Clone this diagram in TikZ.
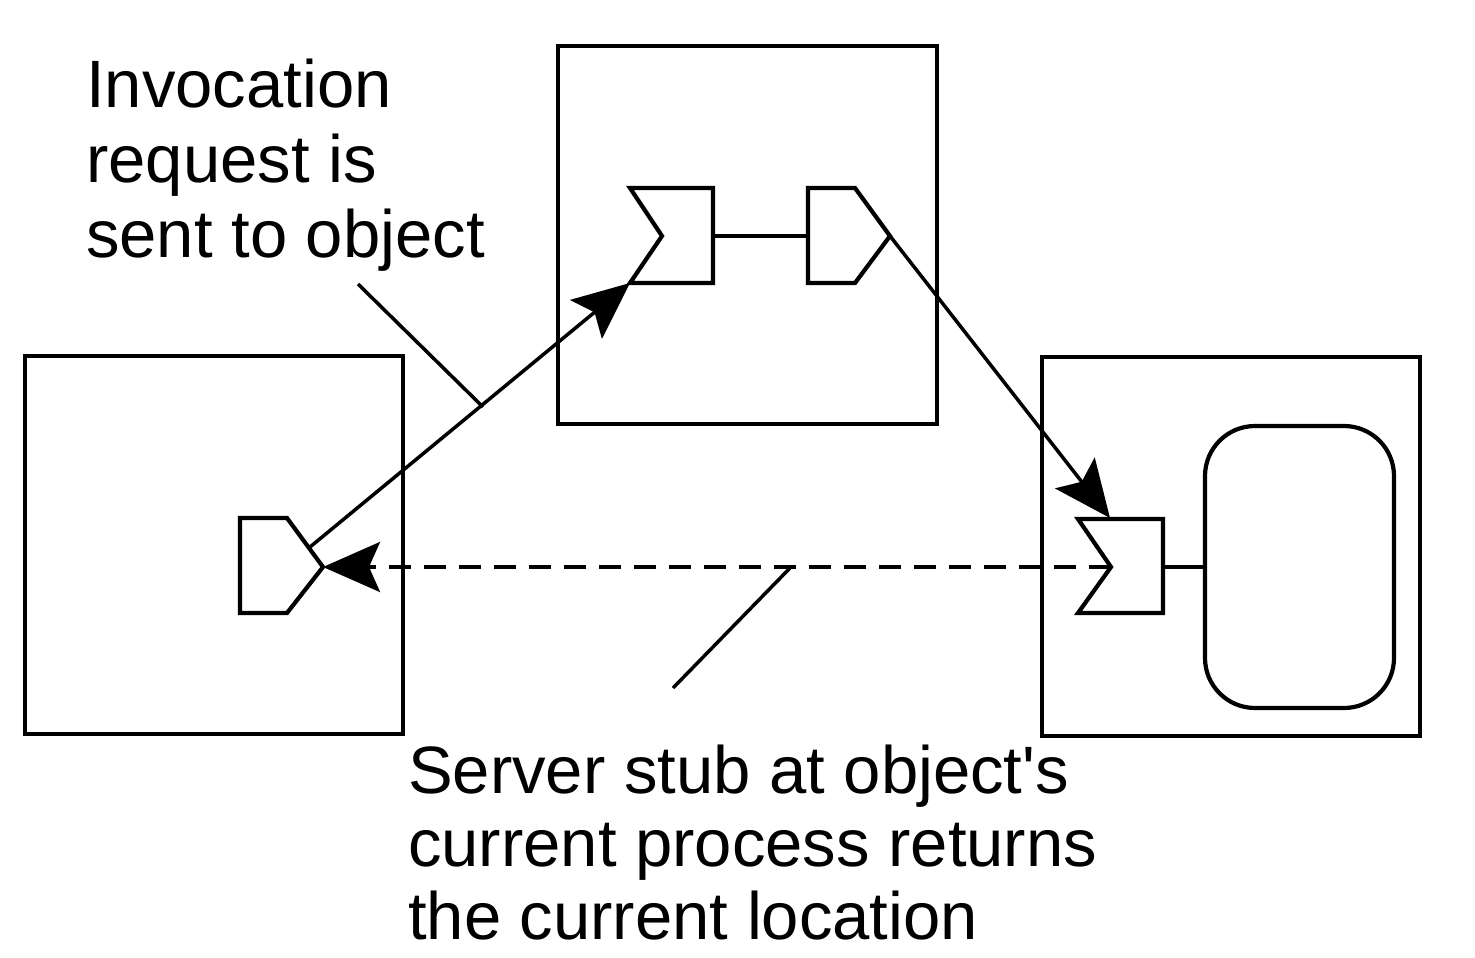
\documentclass[tikz,border=0pt]{standalone}
\usepackage{fontspec}
\setmainfont{Liberation Sans}
\usetikzlibrary{arrows.meta}
\begin{document}
\begin{tikzpicture}[x=1pt,y=-1pt,
  box/.style={draw, line width=4.2pt, line join=miter},
  conn/.style={line width=3.5pt},
  head/.style={-{Stealth[length=57pt,width=50pt,inset=11pt]}},
  lbl/.style={font=\fontsize{67}{75}\selectfont, align=left, inner sep=0pt, anchor=north west}]
\useasboundingbox (0,0) rectangle (1475,958);
% processes
\draw[box] (25,356) rectangle (403,734);
\draw[box] (558,46) rectangle (937,424);
\draw[box] (1042,357) rectangle (1420,736);
\draw[box, rounded corners=50pt] (1205,426) rectangle (1394,708);
% left proxy
\draw[box] (240,518) -- (287,518) -- (323,567) -- (287,613) -- (240,613) -- cycle;
\coordinate (lptip) at (323,567);
\coordinate (lpedge) at (310,547);
% middle skeleton and proxy
\draw[box] (630,188) -- (713,188) -- (713,283) -- (630,283) -- (662,236) -- cycle;
\coordinate (msk) at (630,283);
\coordinate (mskR) at (713,236);
\draw[box] (808,188) -- (855,188) -- (890,236) -- (855,283) -- (808,283) -- cycle;
\coordinate (mpL) at (808,236);
\coordinate (mptip) at (890,236);
% right skeleton
\draw[box] (1078,519) -- (1163,519) -- (1163,613) -- (1078,613) -- (1111,567) -- cycle;
\coordinate (rsktop) at (1110,518);
\coordinate (rsknotch) at (1111,567);
\coordinate (rskR) at (1163,567);
\coordinate (objL) at (1205,567);
% connectors
\draw[conn] (mskR) -- (mpL);
\draw[conn] (rskR) -- (objL);
\draw[conn, head] (lpedge) -- (msk);
\draw[conn, head] (mptip) -- (rsktop);
\draw[conn, head, dash pattern=on 22pt off 13pt] (rsknotch) -- (lptip);
% leaders
\coordinate (L1a) at (358,284);
\coordinate (L1b) at (483,407);
\coordinate (L2a) at (790,568);
\coordinate (L2b) at (673,688);
\draw[conn] (L1a) -- (L1b);
\draw[conn] (L2a) -- (L2b);
% labels
\node[lbl] (t1) at (86,59) {Invocation\\request is\\sent to object};
\node[lbl, font=\fontsize{67}{73}\selectfont] (t2) at (408,745) {Server stub at object\textquotesingle s\\current process returns\\the current location};
\end{tikzpicture}
\end{document}
